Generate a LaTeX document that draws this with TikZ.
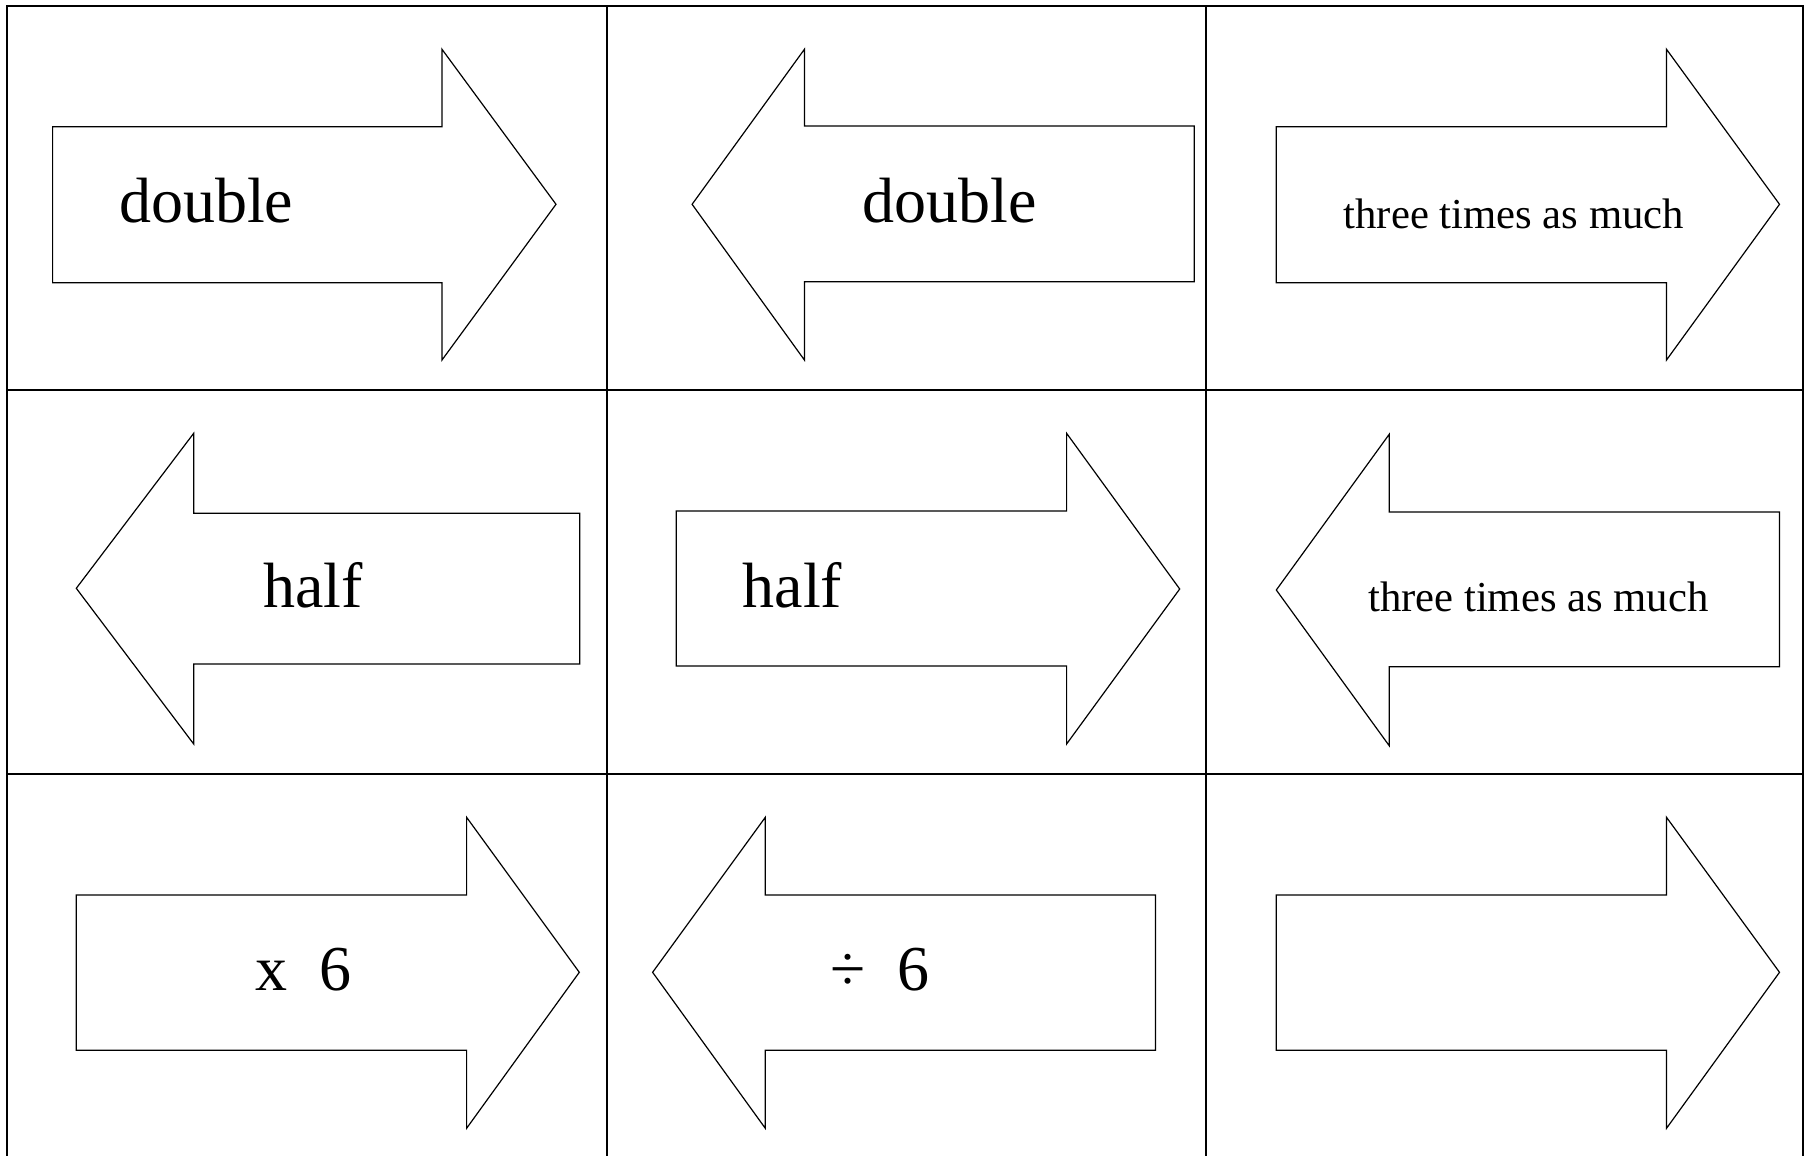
\documentclass[tikz,border=0pt]{standalone}
\usepackage{fontspec}
\setmainfont{Liberation Serif}
\begin{document}
\begin{tikzpicture}[x=1pt,y=-1pt,
  gridline/.style={line width=2pt,black},
  arrowshape/.style={line width=1.2pt,black,line join=miter},
  bigtext/.style={font=\fontsize{64}{77}\selectfont,inner sep=0pt,anchor=base west},
  smalltext/.style={font=\fontsize{42.7}{51}\selectfont,inner sep=0pt,anchor=base west}]
\useasboundingbox (0,0) rectangle (1805,1156);
% grid
\draw[gridline] (7,1156) -- (7,6) -- (1803,6) -- (1803,1156);
\draw[gridline] (607,6) -- (607,1156);
\draw[gridline] (1206,6) -- (1206,1156);
\draw[gridline] (7,389.5) -- (1803,389.5);
\draw[gridline] (7,774) -- (1803,774);
% row 1
\draw[arrowshape] (52.6,126.7) -- (442,126.7) -- (442,49.3) -- (556,204.3) -- (442,360) -- (442,282.7) -- (52.6,282.7) -- cycle;
\node[bigtext] (t1) at (119,222.7) {double};
\draw[arrowshape] (1194.3,126) -- (804.4,126) -- (804.4,49.3) -- (692.1,204.3) -- (804.4,360) -- (804.4,281.7) -- (1194.3,281.7) -- cycle;
\node[bigtext] (t2) at (862,222.7) {double};
\draw[arrowshape] (1276.3,126.7) -- (1666.5,126.7) -- (1666.5,49.3) -- (1779.5,204.3) -- (1666.5,360) -- (1666.5,282.7) -- (1276.3,282.7) -- cycle;
\node[smalltext] (t3) at (1343.5,228.7) {three times as much};
% row 2
\draw[arrowshape] (579.7,513.3) -- (193.7,513.3) -- (193.7,433.3) -- (76.3,588.3) -- (193.7,744) -- (193.7,664) -- (579.7,664) -- cycle;
\node[bigtext] (t4) at (263,607.7) {half};
\draw[arrowshape] (676.3,511) -- (1066.6,511) -- (1066.6,433.3) -- (1179.7,589) -- (1066.6,744) -- (1066.6,666) -- (676.3,666) -- cycle;
\node[bigtext] (t5) at (742.5,607.7) {half};
\draw[arrowshape] (1779.5,512) -- (1389.2,512) -- (1389.2,434.3) -- (1276.3,590) -- (1389.2,745.7) -- (1389.2,666.7) -- (1779.5,666.7) -- cycle;
\node[smalltext] (t6) at (1368,611) {three times as much};
% row 3
\draw[arrowshape] (76.3,895) -- (466.6,895) -- (466.6,817.3) -- (579.3,972.3) -- (466.6,1128.3) -- (466.6,1050.3) -- (76.3,1050.3) -- cycle;
\node[bigtext] (t7) at (255,990.7) {x\hspace{0.5em}6};
\draw[arrowshape] (1155.5,895) -- (765.3,895) -- (765.3,817.3) -- (652.6,972.3) -- (765.3,1128.3) -- (765.3,1050.3) -- (1155.5,1050.3) -- cycle;
\node[bigtext] (t8) at (830,990.7) {÷\hspace{0.5em}6};
\draw[arrowshape] (1276.3,895) -- (1666.5,895) -- (1666.5,817.3) -- (1779.5,972.3) -- (1666.5,1128.3) -- (1666.5,1050.3) -- (1276.3,1050.3) -- cycle;
\end{tikzpicture}
\end{document}
